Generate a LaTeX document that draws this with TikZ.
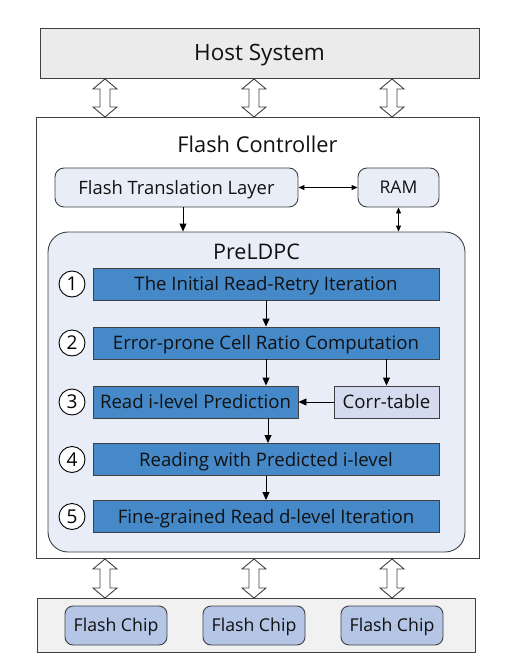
\documentclass[tikz,border=0pt]{standalone}
\usepackage{fontspec}
\setmainfont{Open Sans}
\usetikzlibrary{arrows.meta,calc}
\definecolor{hostfill}{HTML}{EBEBEB}
\definecolor{panelfill}{HTML}{E9EDF7}
\definecolor{stepfill}{HTML}{4589C8}
\definecolor{corrfill}{HTML}{D4DBEE}
\definecolor{chipfill}{HTML}{B4C5E5}
\definecolor{chipsfill}{HTML}{F0F1F0}
\definecolor{edge}{HTML}{404040}
\definecolor{txt}{HTML}{111111}
\tikzset{
  fs/.style 2 args={font=\fontsize{#1}{#1}\selectfont, text height=#2pt, text depth=0pt},
  box/.style={draw=edge, line width=0.9pt, text=txt, inner sep=0pt},
  stepbox/.style={box, fill=stepfill, minimum height=32pt, fs={18.6}{13.2}},
  numcirc/.style={circle, draw=black, line width=0.9pt, fill=white, minimum size=26pt, inner sep=0pt, fs={19}{13.5}},
  arr/.style={-{Triangle[length=8pt,width=7pt]}, line width=0.9pt, black},
  darr/.style={{Triangle[length=6pt,width=5pt]}-{Triangle[length=6pt,width=5pt]}, line width=0.9pt, black},
  hollow/.style={draw=edge, fill=white, line width=0.9pt, line join=miter}
}
\newcommand{\hollowarrow}[3]{%
  \draw[hollow] (#1,#2) -- ++(12,10) -- ++(-7,0) |- ($(#1+5,#3-10)$) -- ++(7,0) -- (#1,#3) -- ++(-12,-10) -- ++(7,0) |- ($(#1-5,#2+10)$) -- ++(-7,0) -- cycle;}
\begin{document}
\begin{tikzpicture}[x=1pt,y=-1pt]
\useasboundingbox (0,0) rectangle (516,668);
% Host
\node[box, fill=hostfill, minimum width=439pt, minimum height=50pt, fs={22.5}{16}] (host) at (259.5,53) {Host System};
% Controller
\draw[edge, line width=0.9pt] (36,117) rectangle (479,558);
\node[fs={21.8}{15.5}, text=txt] (fc) at (257.5,145) {Flash Controller};
\node[box, fill=panelfill, rounded corners=9pt, minimum width=243pt, minimum height=39pt, fs={18.4}{13.1}] (ftl) at (176.5,187.5) {Flash Translation Layer};
\node[box, fill=panelfill, rounded corners=9pt, minimum width=81pt, minimum height=39pt, fs={17.5}{12.4}] (ram) at (398.5,187.5) {RAM};
% PreLDPC panel
\node[box, fill=panelfill, rounded corners=20pt, minimum width=417pt, minimum height=320pt] (pre) at (256.5,392) {};
\node[fs={21.5}{15.3}, text=txt] (pret) at (256.5,252) {PreLDPC};
\draw[arr] (ftl.south -| 183,0) -- (pre.north -| 183,0);
\draw[darr] (ram.south) -- (pre.north -| ram.south);
\draw[darr] (ftl.east) -- (ram.west);
% steps
\node[stepbox, minimum width=346pt] (s1) at (266,284) {The Initial Read-Retry Iteration};
\node[stepbox, minimum width=346pt] (s2) at (266,343) {Error-prone Cell Ratio Computation};
\node[stepbox, minimum width=205pt] (s3) at (195.5,402) {Read i-level Prediction};
\node[box, fill=corrfill, minimum width=105pt, minimum height=32pt, fs={18.6}{13.2}] (corr) at (386.5,402) {Corr-table};
\node[stepbox, minimum width=346pt] (s4) at (266,459.5) {Reading with Predicted i-level};
\node[stepbox, minimum width=346pt] (s5) at (266,516.5) {Fine-grained Read d-level Iteration};
\node[numcirc] (c1) at (72,284) {1};
\node[numcirc] (c2) at (72,343) {2};
\node[numcirc] (c3) at (72,402) {3};
\node[numcirc] (c4) at (72,459.5) {4};
\node[numcirc] (c5) at (72,516.5) {5};
\draw[arr] (s1.south) -- (s2.north);
\draw[arr] (s2.south) -- (s3.north -| s2.south);
\draw[arr] (s2.south -| corr.north) -- (corr.north);
\draw[arr] (corr.west) -- (s3.east);
\draw[arr] (s3.south -| 268,0) -- (s4.north -| 268,0);
\draw[arr] (s4.south) -- (s5.north);
% chips
\node[box, fill=chipsfill, minimum width=438pt, minimum height=54pt] (chips) at (256,625) {};
\node[box, fill=chipfill, rounded corners=8pt, minimum width=102pt, minimum height=39pt, fs={17.7}{12.6}] (ch1) at (116,625.5) {Flash Chip};
\node[box, fill=chipfill, rounded corners=8pt, minimum width=102pt, minimum height=39pt, fs={17.7}{12.6}] (ch2) at (254,625.5) {Flash Chip};
\node[box, fill=chipfill, rounded corners=8pt, minimum width=102pt, minimum height=39pt, fs={17.7}{12.6}] (ch3) at (392,625.5) {Flash Chip};
% hollow double arrows
\foreach \x in {105,254,392} {\hollowarrow{\x}{79}{117}}
\foreach \x in {105,254,392} {\hollowarrow{\x}{559}{598}}
\end{tikzpicture}
\end{document}
